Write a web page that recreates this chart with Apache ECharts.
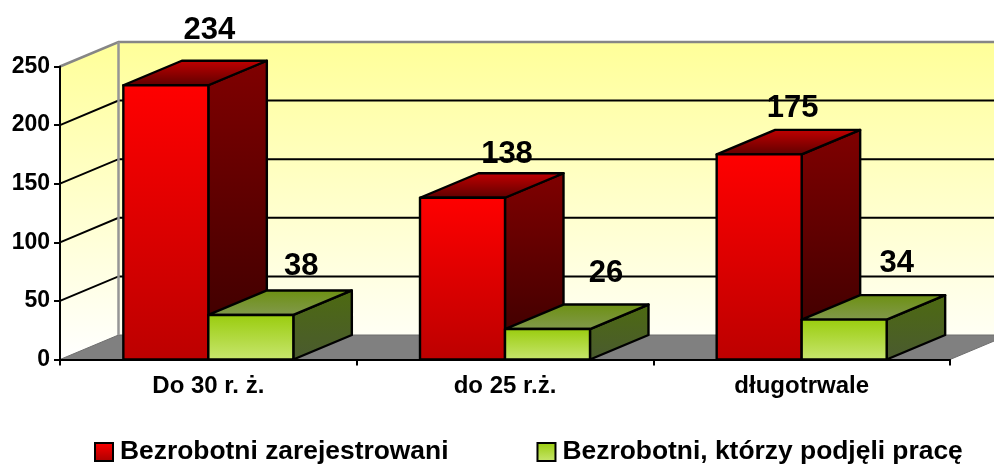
<!DOCTYPE html>
<html>
<head>
<meta charset="utf-8">
<title>Bezrobotni</title>
<script src="https://cdn.jsdelivr.net/npm/echarts@6/dist/echarts.min.js"></script>
<style>
  html, body { margin: 0; padding: 0; background: #fff; }
  #chart { width: 994px; height: 464px; }
</style>
</head>
<body>
<div id="chart"></div>
<script>
const categories = ['Do 30 r. ż.', 'do 25 r.ż.', 'długotrwale']
const registered = [234, 138, 175]
const employed = [38, 26, 34]
const yTicks = [0, 50, 100, 150, 200, 250]

const registeredName = 'Bezrobotni zarejestrowani'
const employedName = 'Bezrobotni, którzy podjęli pracę'

// depth of the fake 3D box, in pixels
const depthX = 58.5
const depthY = 24.5
const font = 'Liberation Sans, Arial, sans-serif'

// the data labels were moved by hand in the original, [dx from the front right corner, dy from the front top]
const registeredLabelShift = [[1, -55], [2, -43], [-9, -46]]
const employedLabelShift = [[8, -49], [16, -56], [10, -56]]

const grad = (top, bottom) => new echarts.graphic.LinearGradient(0, 0, 0, 1, [
  { offset: 0, color: top },
  { offset: 1, color: bottom }
])

const redFaces = {
  front: ['#ff0000', '#bc0000'],
  side: ['#800000', '#380000'],
  top: ['#c40000', '#5c0000']
}
const greenFaces = {
  front: ['#99cc0c', '#c8e670'],
  side: ['#4d6a10', '#4a5a30'],
  top: ['#6c9010', '#82994e']
}

function renderWalls (params, api) {
  const sys = params.coordSys
  const x0 = sys.x
  const x1 = sys.x + sys.width
  const bottom = api.coord([0, 0])[1]
  const top = api.coord([0, yTicks[yTicks.length - 1]])[1]
  const children = [
    {
      type: 'polygon',
      shape: { points: [[x0, top], [x0 + depthX, top - depthY], [x0 + depthX, bottom - depthY], [x0, bottom]] },
      style: { fill: grad('#ffff99', '#ffffff') }
    },
    {
      type: 'rect',
      shape: { x: x0 + depthX, y: top - depthY, width: x1 - x0, height: bottom - top },
      style: { fill: grad('#ffff99', '#fffff4') }
    },
    {
      type: 'polygon',
      shape: { points: [[x0, bottom], [x0 + depthX, bottom - depthY], [x1 + depthX, bottom - depthY], [x1, bottom]] },
      style: { fill: '#808080', stroke: '#6e6e6e', lineWidth: 1 }
    }
  ]
  yTicks.forEach(v => {
    const y = api.coord([0, v])[1]
    const isTop = v === yTicks[yTicks.length - 1]
    if (v === 0) {
      return
    }
    children.push({
      type: 'polyline',
      shape: { points: [[x0, y], [x0 + depthX, y - depthY], [x1 + depthX, y - depthY]] },
      style: { fill: null, stroke: isTop ? '#868686' : '#000', lineWidth: isTop ? 2.5 : 2 }
    })
  })
  children.push({
    type: 'line',
    shape: { x1: x0 + depthX, y1: top - depthY, x2: x0 + depthX, y2: bottom - depthY },
    style: { stroke: '#969696', lineWidth: 2.5 }
  })
  return { type: 'group', children: children }
}

function makeBarRender (faces, side, labelShift) {
  return function (params, api) {
    const idx = api.value(0)
    const val = api.value(1)
    const w = api.size([1, 0])[0] * 0.2865
    const c = api.coord([idx, val])
    const y0 = api.coord([idx, 0])[1]
    const l = side < 0 ? c[0] - w : c[0]
    const r = l + w
    const t = c[1]
    const line = { stroke: '#000', lineWidth: 2.4, lineJoin: 'round' }
    const shift = labelShift[params.dataIndex]
    return {
      type: 'group',
      children: [
        {
          type: 'polygon',
          shape: { points: [[r, t], [r + depthX, t - depthY], [r + depthX, y0 - depthY], [r, y0]] },
          style: Object.assign({ fill: grad(faces.side[0], faces.side[1]) }, line)
        },
        {
          type: 'polygon',
          shape: { points: [[l, t], [l + depthX, t - depthY], [r + depthX, t - depthY], [r, t]] },
          style: Object.assign({ fill: grad(faces.top[0], faces.top[1]) }, line)
        },
        {
          type: 'rect',
          shape: { x: l, y: t, width: w, height: y0 - t },
          style: Object.assign({ fill: grad(faces.front[0], faces.front[1]) }, line)
        },
        {
          type: 'text',
          z2: 50,
          style: {
            x: r + shift[0],
            y: t + shift[1],
            text: String(val),
            align: 'center',
            verticalAlign: 'middle',
            fill: '#000',
            font: 'bold 31px ' + font
          }
        }
      ]
    }
  }
}

const myChart = echarts.init(document.getElementById('chart'), null, { renderer: 'canvas' })
myChart.setOption({
  animation: false,
  backgroundColor: '#fff',
  grid: { left: 60, right: 44, top: 66.5, bottom: 104.5 },
  legend: {
    left: 89,
    top: 434,
    itemWidth: 18,
    itemHeight: 18,
    itemGap: 88,
    selectedMode: false,
    textStyle: { fontFamily: font, fontWeight: 'bold', fontSize: 26.4, color: '#000', padding: [0, 0, 0, 2] },
    data: [
      {
        name: registeredName,
        icon: 'rect',
        itemStyle: { color: grad('#ff0000', '#a80000'), borderColor: '#000', borderWidth: 2 }
      },
      {
        name: employedName,
        icon: 'rect',
        itemStyle: { color: grad('#99cc0c', '#c8e670'), borderColor: '#000', borderWidth: 2 }
      }
    ]
  },
  xAxis: {
    type: 'category',
    data: categories,
    z: 5,
    axisLine: { lineStyle: { color: '#000', width: 2 } },
    axisTick: { show: true, length: 6, lineStyle: { color: '#000', width: 2 } },
    axisLabel: { interval: 0, margin: 15, color: '#000', fontFamily: font, fontWeight: 'bold', fontSize: 24 }
  },
  yAxis: {
    type: 'value',
    min: 0,
    max: 250,
    interval: 50,
    z: 5,
    splitLine: { show: false },
    axisLine: { show: true, lineStyle: { color: '#000', width: 2 } },
    axisTick: { show: true, length: 6, lineStyle: { color: '#000', width: 2 } },
    axisLabel: { margin: 10, color: '#000', fontFamily: font, fontWeight: 'bold', fontSize: 23 }
  },
  series: [
    {
      type: 'custom',
      name: 'walls',
      silent: true,
      z: 1,
      renderItem: renderWalls,
      data: [[0, 0]]
    },
    {
      type: 'custom',
      name: registeredName,
      z: 2,
      renderItem: makeBarRender(redFaces, -1, registeredLabelShift),
      encode: { x: 0, y: 1 },
      data: registered.map((v, i) => [i, v])
    },
    {
      type: 'custom',
      name: employedName,
      z: 3,
      renderItem: makeBarRender(greenFaces, 1, employedLabelShift),
      encode: { x: 0, y: 1 },
      data: employed.map((v, i) => [i, v])
    }
  ]
})
</script>
</body>
</html>
